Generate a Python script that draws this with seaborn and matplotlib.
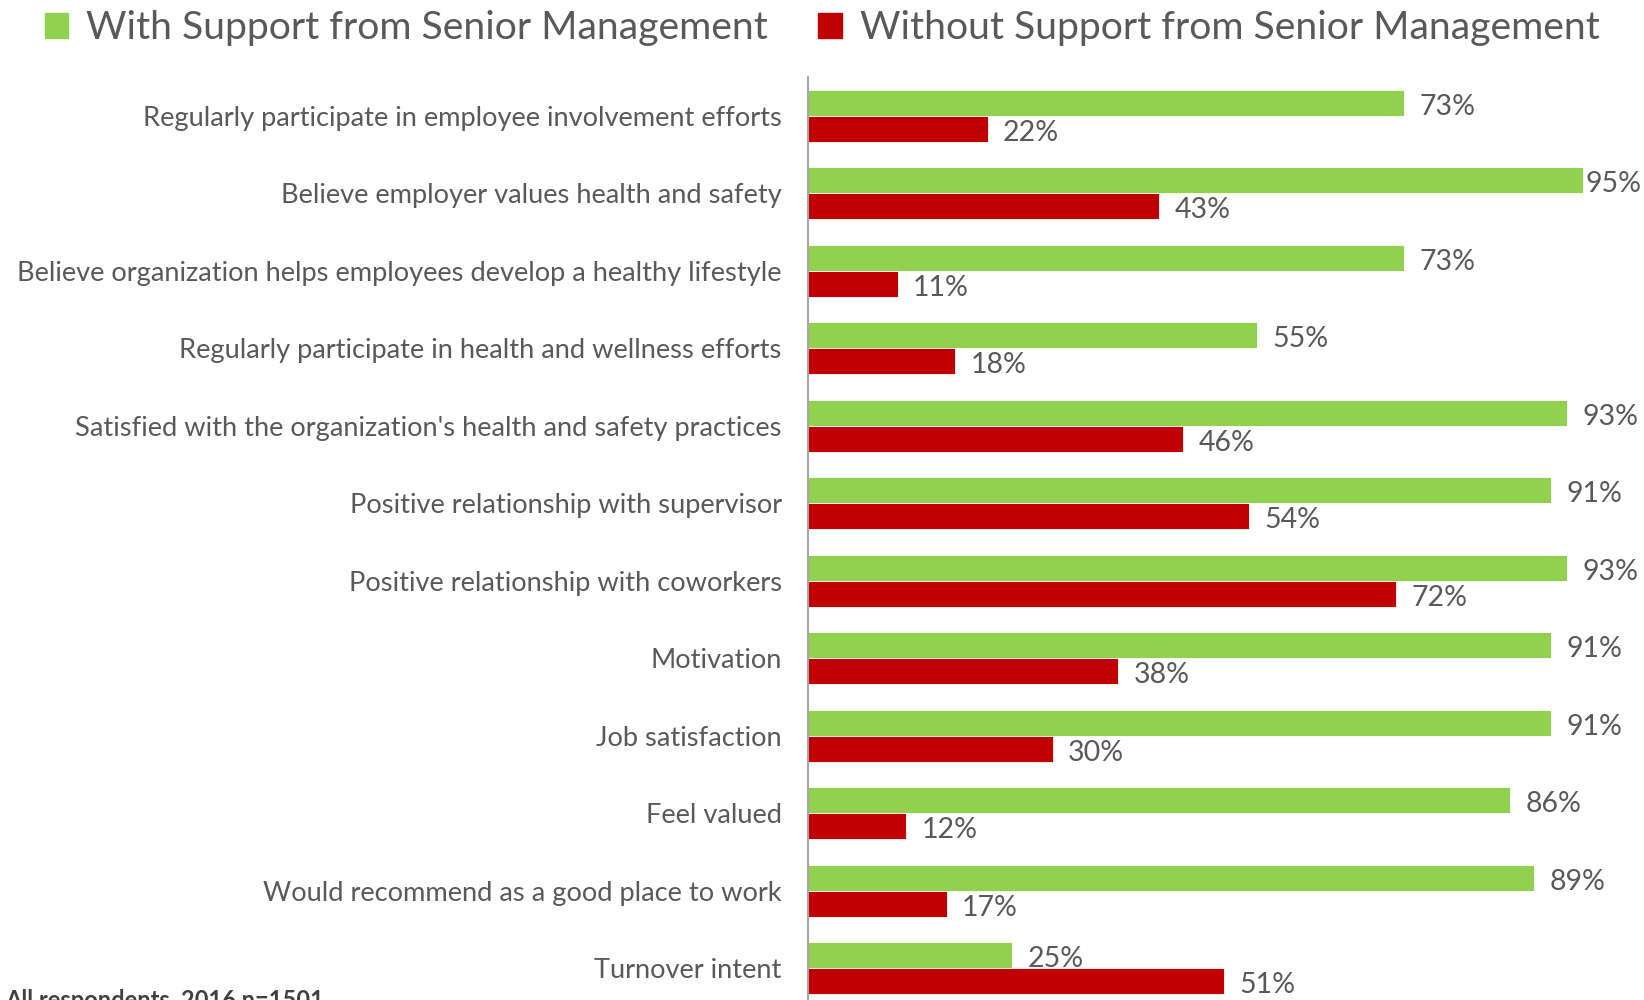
import pandas as pd
import matplotlib
matplotlib.use("Agg")
import matplotlib.pyplot as plt
import seaborn as sns

# ==================== DATA ====================

categories = [
    "Regularly participate in employee involvement efforts",
    "Believe employer values health and safety",
    "Believe organization helps employees develop a healthy lifestyle",
    "Regularly participate in health and wellness efforts",
    "Satisfied with the organization's health and safety practices",
    "Positive relationship with supervisor",
    "Positive relationship with coworkers",
    "Motivation",
    "Job satisfaction",
    "Feel valued",
    "Would recommend as a good place to work",
    "Turnover intent",
]
with_support = [73, 95, 73, 55, 93, 91, 93, 91, 91, 86, 89, 25]
without_support = [22, 43, 11, 18, 46, 54, 72, 38, 30, 12, 17, 51]
series_names = ["With Support from Senior Management",
                "Without Support from Senior Management"]
footnote = "All respondents, 2016 n=1501"

GREEN = "#92D050"
RED = "#C00000"
TEXT = "#595959"

# ==================== FRAME ====================

df = pd.DataFrame({
    "category": categories * 2,
    "series": [series_names[0]] * len(categories) + [series_names[1]] * len(categories),
    "value": with_support + without_support,
})

sns.set_theme(style="white")
plt.rcParams["font.family"] = ["Lato", "DejaVu Sans"]

fig = plt.figure(figsize=(16.44, 10), dpi=100)
ax = fig.add_axes([0.4915, -0.007, 0.4965, 0.93])

sns.barplot(data=df, y="category", x="value", hue="series",
            order=categories, hue_order=series_names,
            palette=[GREEN, RED], width=0.67, gap=0,
            orient="h", ax=ax, legend=False, saturation=1)

ax.set_xlim(0, 100)
ax.set_ylim(len(categories) - 0.5, -0.5)
ax.set_xlabel("")
ax.set_ylabel("")
ax.set_xticks([])
ax.tick_params(axis="y", length=0, pad=19, labelsize=19.6, labelcolor=TEXT)

for side in ["top", "right", "bottom"]:
    ax.spines[side].set_visible(False)
ax.spines["left"].set_color("#A6A6A6")
ax.spines["left"].set_linewidth(1.5)

# value labels (the longest bar gets squeezed against the edge, like the original)
for cont, vals in zip(ax.containers, [with_support, without_support]):
    texts = ax.bar_label(cont, labels=[f"{v}%" for v in vals], padding=11,
                         fontsize=20.5, color=TEXT)
    for t, v in zip(texts, vals):
        dx = 1.5 if v >= 95 else 11
        t.xyann = (dx, -3)
    for bar in cont:
        bar.set_edgecolor("white")
        bar.set_linewidth(0.6)

# legend
handles = [plt.Rectangle((0, 0), 1, 1, color=c) for c in [GREEN, RED]]
fig.legend(handles, series_names, loc="upper center", bbox_to_anchor=(0.5, 1.025),
           ncol=2, frameon=False, fontsize=28.2, labelcolor=TEXT,
           handlelength=0.6, handleheight=0.6, handletextpad=0.45,
           columnspacing=1.3)

fig.text(0.003, 0.011, footnote, fontsize=17, fontweight="bold",
         color="#404040", va="top", ha="left")

fig.savefig("out.png", dpi=100)
